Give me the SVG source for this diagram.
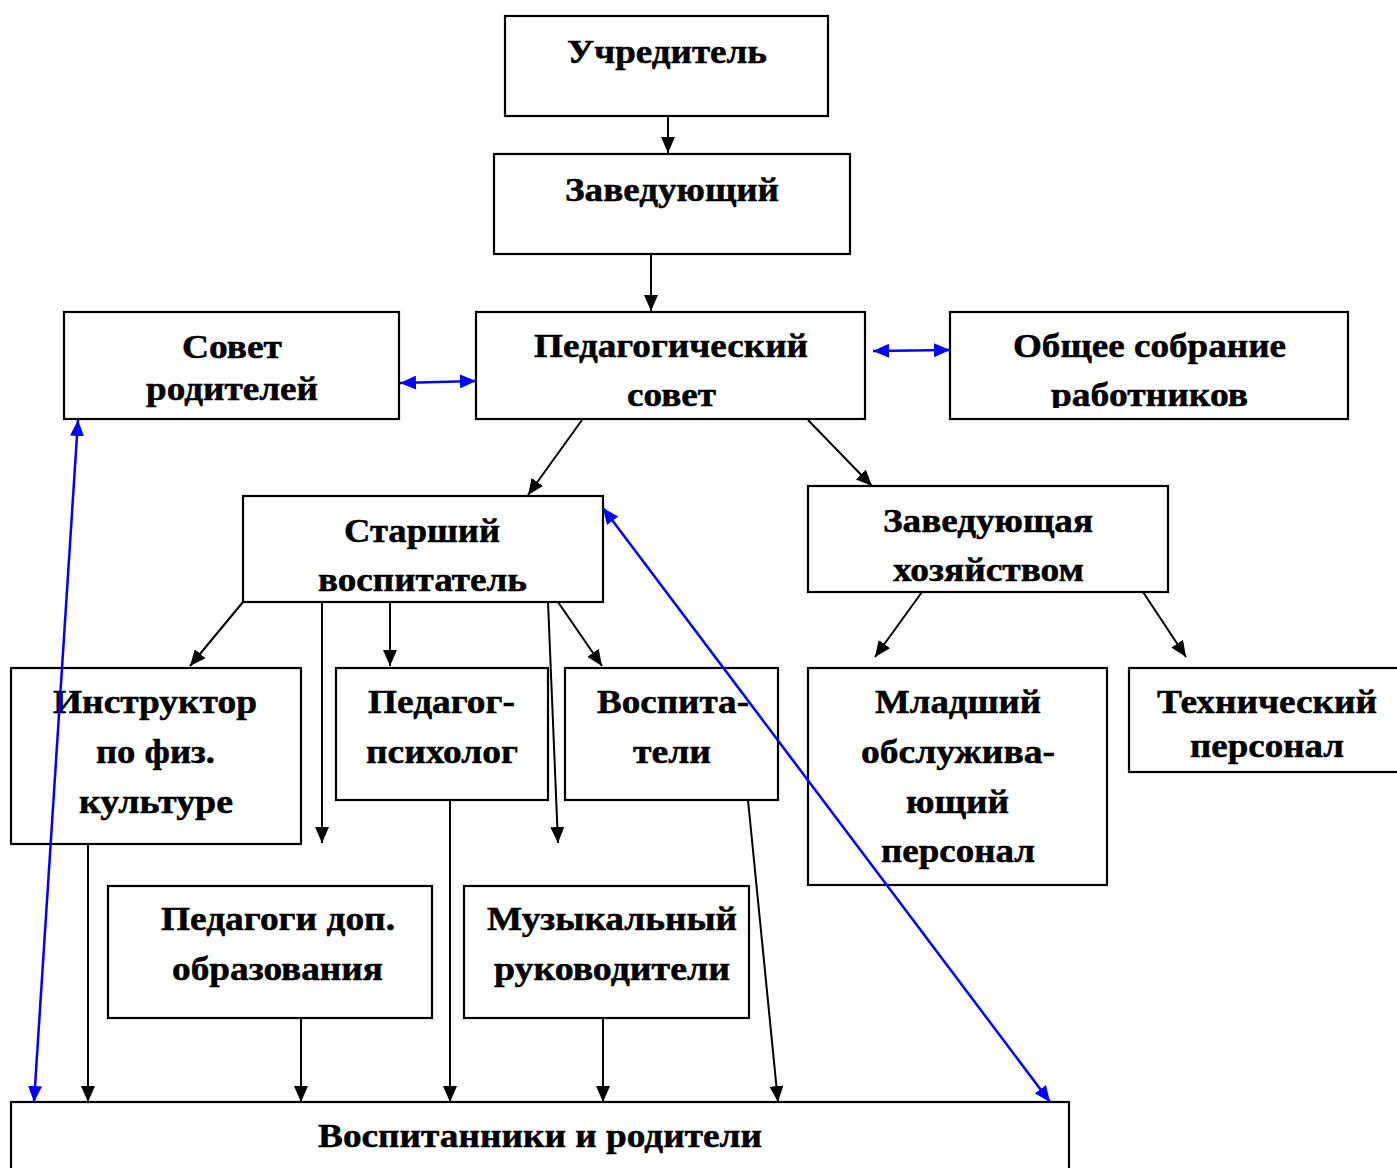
<svg xmlns="http://www.w3.org/2000/svg" width="1397" height="1168" viewBox="0 0 1397 1168">
<style>
.box{fill:#fff;stroke:#000;stroke-width:2.2}
.t{font-family:"Liberation Serif","Times New Roman",serif;font-weight:bold;font-size:33px;fill:#000;stroke:#000;stroke-width:0.5}
.c{stroke:#000;stroke-width:2;fill:none;marker-end:url(#ah)}
.b{stroke:#0000ff;stroke-width:2.5;fill:none;marker-end:url(#bh);marker-start:url(#bh)}
</style>
<defs>
<marker id="ah" markerUnits="userSpaceOnUse" markerWidth="17" markerHeight="14" refX="16" refY="7" orient="auto"><path d="M0,0 L16,7 L0,14 z" fill="#000"/></marker>
<marker id="bh" markerUnits="userSpaceOnUse" markerWidth="17" markerHeight="14" refX="16" refY="7" orient="auto-start-reverse"><path d="M0,0 L16,7 L0,14 z" fill="#0000ff"/></marker>
<clipPath id="clipW"><rect x="950" y="312" width="400" height="96"/></clipPath>
</defs>

<g id="n-uchreditel"><rect class="box" x="505" y="16" width="323" height="100"/><text class="t" x="567" y="63" textLength="200" lengthAdjust="spacingAndGlyphs">Учредитель</text></g>
<g id="n-zaveduyushchiy"><rect class="box" x="494" y="154" width="356" height="100"/><text class="t" x="565" y="201" textLength="214" lengthAdjust="spacingAndGlyphs">Заведующий</text></g>
<g id="n-sovet-roditeley"><rect class="box" x="64" y="312" width="335" height="107"/><text class="t" x="182" y="358" textLength="100" lengthAdjust="spacingAndGlyphs">Совет</text><text class="t" x="146" y="400" textLength="172" lengthAdjust="spacingAndGlyphs">родителей</text></g>
<g id="n-ped-sovet"><rect class="box" x="476" y="312" width="389" height="107"/><text class="t" x="534" y="357" textLength="274" lengthAdjust="spacingAndGlyphs">Педагогический</text><text class="t" x="627" y="406" textLength="89" lengthAdjust="spacingAndGlyphs">совет</text></g>
<g id="n-obshchee"><rect class="box" x="950" y="312" width="398" height="107"/><text class="t" x="1013" y="357" textLength="273" lengthAdjust="spacingAndGlyphs">Общее собрание</text><text class="t" x="1051" y="406" textLength="197" lengthAdjust="spacingAndGlyphs" clip-path="url(#clipW)">работников</text></g>
<g id="n-starshiy"><rect class="box" x="243" y="496" width="360" height="106"/><text class="t" x="344" y="542" textLength="156" lengthAdjust="spacingAndGlyphs">Старший</text><text class="t" x="318" y="591" textLength="209" lengthAdjust="spacingAndGlyphs">воспитатель</text></g>
<g id="n-zavhoz"><rect class="box" x="808" y="486" width="360" height="106"/><text class="t" x="883" y="532" textLength="210" lengthAdjust="spacingAndGlyphs">Заведующая</text><text class="t" x="893" y="581" textLength="191" lengthAdjust="spacingAndGlyphs">хозяйством</text></g>
<g id="n-instruktor"><rect class="box" x="11" y="668" width="290" height="176"/><text class="t" x="53" y="713" textLength="204" lengthAdjust="spacingAndGlyphs">Инструктор</text><text class="t" x="96" y="763" textLength="119" lengthAdjust="spacingAndGlyphs">по физ.</text><text class="t" x="79" y="813" textLength="154" lengthAdjust="spacingAndGlyphs">культуре</text></g>
<g id="n-psiholog"><rect class="box" x="336" y="668" width="212" height="132"/><text class="t" x="368" y="713" textLength="147" lengthAdjust="spacingAndGlyphs">Педагог-</text><text class="t" x="366" y="763" textLength="152" lengthAdjust="spacingAndGlyphs">психолог</text></g>
<g id="n-vospitateli"><rect class="box" x="565" y="668" width="213" height="132"/><text class="t" x="597" y="713" textLength="152" lengthAdjust="spacingAndGlyphs">Воспита-</text><text class="t" x="633" y="763" textLength="78" lengthAdjust="spacingAndGlyphs">тели</text></g>
<g id="n-mladshiy"><rect class="box" x="808" y="668" width="299" height="217"/><text class="t" x="875" y="713" textLength="166" lengthAdjust="spacingAndGlyphs">Младший</text><text class="t" x="861" y="763" textLength="194" lengthAdjust="spacingAndGlyphs">обслужива-</text><text class="t" x="906" y="813" textLength="103" lengthAdjust="spacingAndGlyphs">ющий</text><text class="t" x="881" y="862" textLength="154" lengthAdjust="spacingAndGlyphs">персонал</text></g>
<g id="n-tehnicheskiy"><rect class="box" x="1129" y="668" width="275" height="104"/><text class="t" x="1157" y="713" textLength="220" lengthAdjust="spacingAndGlyphs">Технический</text><text class="t" x="1190" y="757" textLength="154" lengthAdjust="spacingAndGlyphs">персонал</text></g>
<g id="n-pedagogi-dop"><rect class="box" x="108" y="886" width="324" height="132"/><text class="t" x="161" y="930" textLength="234" lengthAdjust="spacingAndGlyphs">Педагоги доп.</text><text class="t" x="172" y="980" textLength="211" lengthAdjust="spacingAndGlyphs">образования</text></g>
<g id="n-muzykalnyy"><rect class="box" x="464" y="886" width="285" height="132"/><text class="t" x="487" y="930" textLength="250" lengthAdjust="spacingAndGlyphs">Музыкальный</text><text class="t" x="494" y="980" textLength="236" lengthAdjust="spacingAndGlyphs">руководители</text></g>
<g id="n-vospitanniki"><rect class="box" x="11" y="1102" width="1058" height="100"/><text class="t" x="318" y="1147" textLength="444" lengthAdjust="spacingAndGlyphs">Воспитанники и родители</text></g>

<g id="connectors">
<line class="c" x1="668" y1="116" x2="668" y2="153"/>
<line class="c" x1="651" y1="254" x2="651" y2="311"/>
<line class="c" x1="582" y1="420" x2="528" y2="495"/>
<line class="c" x1="808" y1="420" x2="872" y2="486"/>
<line class="c" x1="243" y1="602" x2="190" y2="666"/>
<line class="c" x1="322" y1="602" x2="322" y2="843"/>
<line class="c" x1="390" y1="602" x2="390" y2="666"/>
<line class="c" x1="548" y1="602" x2="558" y2="843"/>
<line class="c" x1="558" y1="602" x2="602" y2="666"/>
<line class="c" x1="922" y1="592" x2="875" y2="657"/>
<line class="c" x1="1143" y1="592" x2="1186" y2="657"/>
<line class="c" x1="88" y1="844" x2="88" y2="1102"/>
<line class="c" x1="301" y1="1018" x2="301" y2="1102"/>
<line class="c" x1="450" y1="800" x2="450" y2="1102"/>
<line class="c" x1="603" y1="1018" x2="603" y2="1102"/>
<line class="c" x1="748" y1="800" x2="778" y2="1102"/>
<line class="b" x1="400" y1="383" x2="476" y2="381"/>
<line class="b" x1="873" y1="351" x2="950" y2="350"/>
<line class="b" x1="78" y1="420" x2="34" y2="1102"/>
<line class="b" x1="603" y1="508" x2="1050" y2="1102"/>
</g>
</svg>
